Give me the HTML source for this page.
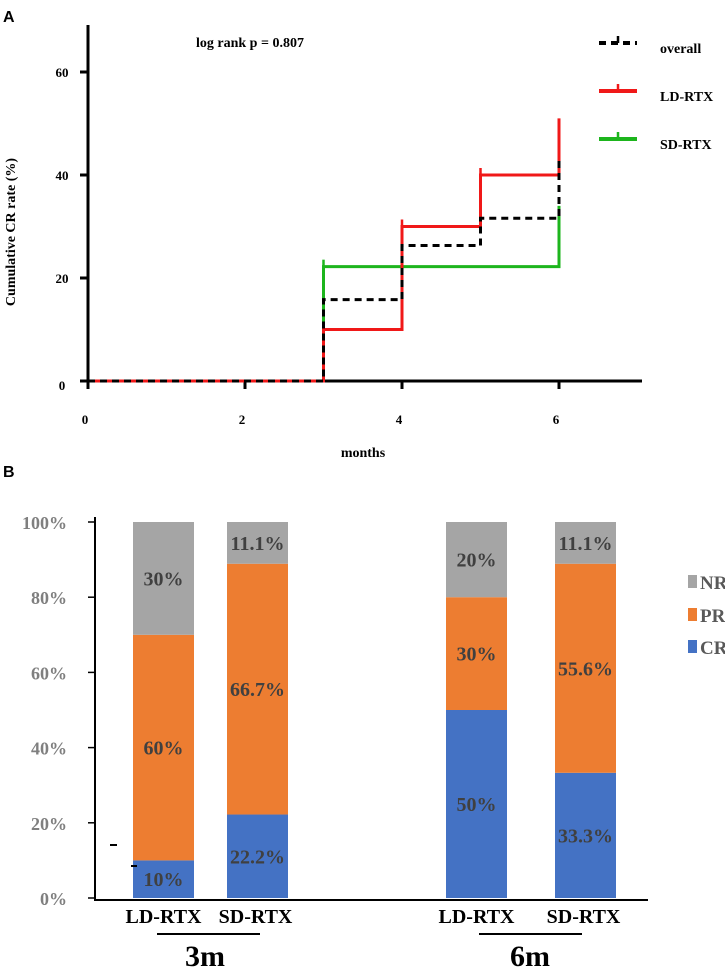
<!DOCTYPE html>
<html><head><meta charset="utf-8"><style>
body{margin:0;background:#fff;overflow:hidden}
svg{display:block}
</style></head><body>
<svg id="s" width="725" height="968" xmlns="http://www.w3.org/2000/svg">
<text x="3" y="22" font-family="Liberation Sans, sans-serif" font-weight="bold" font-size="16">A</text>
<text x="3" y="477" font-family="Liberation Sans, sans-serif" font-weight="bold" font-size="16">B</text>
<g id="a"></g>
<g id="b"></g>
</svg>
<script>
// Panel A data
const kmTicksX=[0,2,4,6];
const kmTicksY=[0,20,40,60];
const ldTimes=[0,3,4,5,6];
const ldVals=[0,10,30,40,40];
const sdTimes=[0,3,6];
const sdVals=[0,22.2,22.2];
const ovTimes=[0,3,4,5,6];
const ovVals=[0,15.8,26.3,31.6,31.6];
const censorLD=51, censorSD=34, censorOV=43;
// Panel B data
const groups=["3m","6m"];
const barLabels=["LD-RTX","SD-RTX","LD-RTX","SD-RTX"];
const crVals=[10,22.2,50,33.3];
const prVals=[60,66.7,30,55.6];
const nrVals=[30,11.1,20,11.1];
const crText=["10%","22.2%","50%","33.3%"];
const prText=["60%","66.7%","30%","55.6%"];
const nrText=["30%","11.1%","20%","11.1%"];
const pctTicks=[0,20,40,60,80,100];

const NS="http://www.w3.org/2000/svg";
function mk(p,t,a){const e=document.createElementNS(NS,t);for(const k in a)e.setAttribute(k,a[k]);p.appendChild(e);return e;}
const A=document.getElementById('a'), B=document.getElementById('b');
const serif="Liberation Serif, serif";
const ax=m=>88+m*78.5, ay=v=>381-v*5.15;
let e;
e=mk(A,'line',{x1:88,y1:25,x2:88,y2:388,stroke:'#000','stroke-width':3});

e=mk(A,'line',{x1:80,y1:381,x2:642,y2:381,stroke:'#000','stroke-width':3});

kmTicksX.forEach(t=>{
 e=mk(A,'line',{x1:ax(t),y1:381,x2:ax(t),y2:389,stroke:'#000','stroke-width':3});
 
 e=mk(A,'text',{x:ax(t)-3,y:424,'text-anchor':'middle','font-family':serif,'font-weight':'bold','font-size':13});
 e.textContent=t;
});
kmTicksY.forEach(t=>{
 e=mk(A,'line',{x1:80,y1:ay(t),x2:88,y2:ay(t),stroke:'#000','stroke-width':3});
 
 e=mk(A,'text',{x:62,y:ay(t)+(t==0?9:5),'text-anchor':'middle','font-family':serif,'font-weight':'bold','font-size':13});
 e.textContent=t;
});
e=mk(A,'text',{x:363,y:457,'text-anchor':'middle','font-family':serif,'font-weight':'bold','font-size':14});
e.textContent='months';
e=mk(A,'text',{x:0,y:0,transform:'translate(15,232) rotate(-90)','text-anchor':'middle','font-family':serif,'font-weight':'bold','font-size':14});
e.textContent='Cumulative CR rate (%)';
e=mk(A,'text',{x:196,y:47,'font-family':serif,'font-weight':'bold','font-size':14});
e.textContent='log rank p = 0.807';
function stepPath(ts,vs,cens){let d=`M${ax(ts[0])},${ay(vs[0])}`;for(let i=1;i<ts.length;i++){d+=` H${ax(ts[i])} V${ay(vs[i])}`;}d+=` V${ay(cens)}`;return d;}
function ticks(ts,vs,col,name){for(let i=1;i<ts.length-1;i++){e=mk(A,'line',{x1:ax(ts[i]),y1:ay(vs[i]),x2:ax(ts[i]),y2:ay(vs[i])-7,stroke:col,'stroke-width':2.5});}}
e=mk(A,'path',{d:stepPath(sdTimes,sdVals,censorSD),fill:'none',stroke:'#1db51d','stroke-width':3});
ticks(sdTimes,sdVals,'#1db51d','sd-rtx');
e=mk(A,'path',{d:stepPath(ldTimes,ldVals,censorLD),fill:'none',stroke:'#f01818','stroke-width':3});
ticks(ldTimes,ldVals,'#f01818','ld-rtx');
e=mk(A,'path',{d:stepPath(ovTimes,ovVals,censorOV),fill:'none',stroke:'#000','stroke-width':3,'stroke-dasharray':'7,5'});

const leg=[['overall','#000',43,true],['LD-RTX','#f01818',91,false],['SD-RTX','#1db51d',139,false]];
leg.forEach(l=>{
 e=mk(A,'line',{x1:599,y1:l[2],x2:637,y2:l[2],stroke:l[1],'stroke-width':4,'stroke-dasharray':l[3]?'7,5':'none'});
 
 e=mk(A,'line',{x1:618,y1:l[2],x2:618,y2:l[2]-7,stroke:l[1],'stroke-width':2.5});
 
 e=mk(A,'text',{x:660,y:l[2]+10,'font-family':serif,'font-weight':'bold','font-size':14});
 e.textContent=l[0];
});
// Panel B
const by=v=>898-v*3.76;
const barX=[133,227,446,555], bw=61;
e=mk(B,'line',{x1:95,y1:517,x2:95,y2:901,stroke:'#000','stroke-width':2});

e=mk(B,'line',{x1:95,y1:900,x2:648,y2:900,stroke:'#000','stroke-width':2});

pctTicks.forEach(t=>{
 e=mk(B,'line',{x1:88,y1:by(t),x2:95,y2:by(t),stroke:'#000','stroke-width':1.5});
 
 e=mk(B,'text',{x:67,y:by(t)+7,'text-anchor':'end','font-family':serif,'font-weight':'bold','font-size':18,fill:'#7f7f7f'});
 e.textContent=t+'%';
});
barX.forEach((x,i)=>{
 const segs=[[0,crVals[i],'#4472c4',crText[i],'cr'],[crVals[i],crVals[i]+prVals[i],'#ed7d31',prText[i],'pr'],[crVals[i]+prVals[i],crVals[i]+prVals[i]+nrVals[i],'#a5a5a5',nrText[i],'nr']];
 segs.forEach(s=>{
  e=mk(B,'rect',{x:x,y:by(s[1]),width:bw,height:by(s[0])-by(s[1]),fill:s[2]});
  
  e=mk(B,'text',{x:x+bw/2,y:(by(s[0])+by(s[1]))/2+7,'text-anchor':'middle','font-family':serif,'font-weight':'bold','font-size':20,fill:'#404040'});
  e.textContent=s[3];
 });
 e=mk(B,'text',{x:x+bw/2+(i%2?-2:0),y:923,'text-anchor':'middle','font-family':serif,'font-weight':'bold','font-size':20});
 e.textContent=barLabels[i];
});
e=mk(B,'line',{x1:110,y1:845,x2:117,y2:845,stroke:'#000','stroke-width':2});
e=mk(B,'line',{x1:131,y1:866,x2:137,y2:866,stroke:'#000','stroke-width':2});
const grpX=[[157,260,205],[479,582,530]];
groups.forEach((g,i)=>{
 e=mk(B,'line',{x1:grpX[i][0],y1:934,x2:grpX[i][1],y2:934,stroke:'#000','stroke-width':2});
 
 e=mk(B,'text',{x:grpX[i][2],y:966,'text-anchor':'middle','font-family':serif,'font-weight':'bold','font-size':30});
 e.textContent=g;
});
[['NR','#a5a5a5',582],['PR','#ed7d31',615],['CR','#4472c4',647]].forEach(l=>{
 e=mk(B,'rect',{x:688,y:l[2]-7,width:9,height:13,fill:l[1]});
 
 e=mk(B,'text',{x:700,y:l[2]+7,'font-family':serif,'font-weight':'bold','font-size':19,fill:'#595959'});
 e.textContent=l[0];
});
</script>
</body></html>
